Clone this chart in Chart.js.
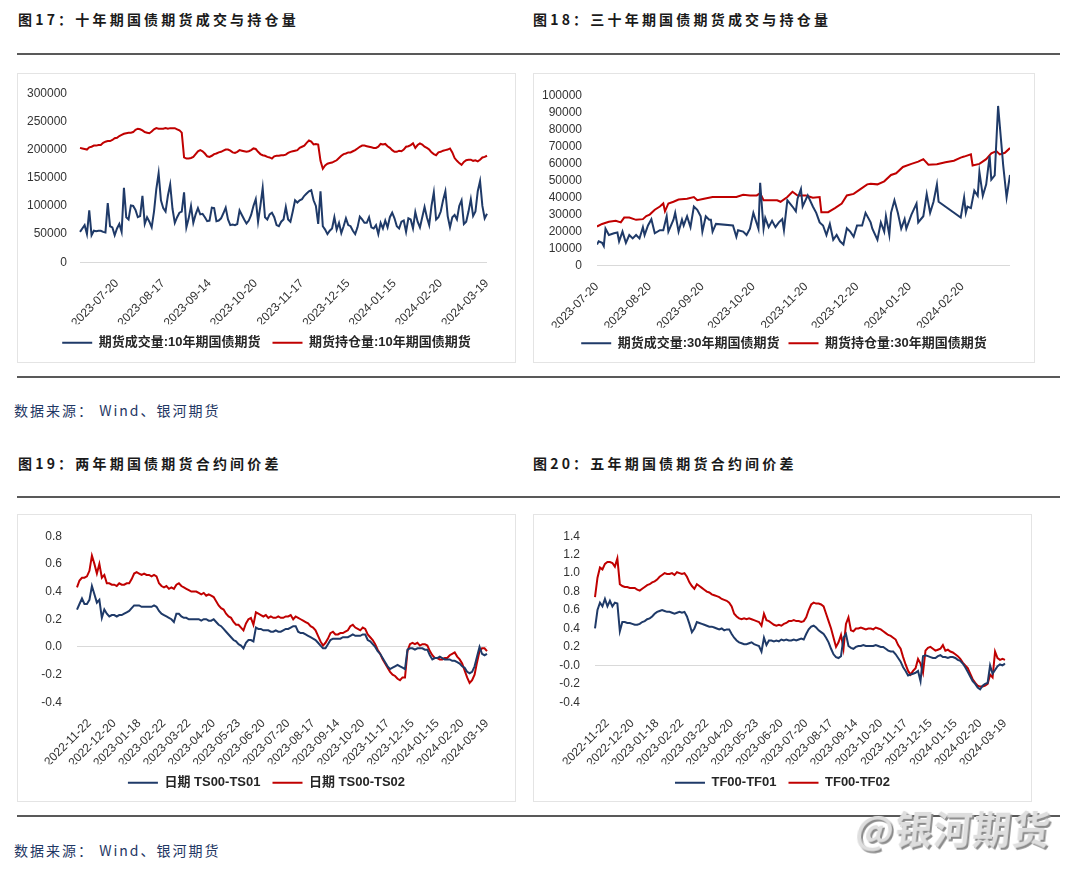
<!DOCTYPE html>
<html><head><meta charset="utf-8">
<script src="https://cdn.jsdelivr.net/npm/chart.js@4.4.1/dist/chart.umd.min.js"></script>
<style>
html,body{margin:0;padding:0;background:#fff;}
body{width:1080px;height:884px;position:relative;overflow:hidden;font-family:'Noto Sans CJK SC',sans-serif;}
.title{position:absolute;font-size:14px;font-weight:bold;letter-spacing:3.2px;color:#1a1a1a;line-height:20px;white-space:nowrap;}
.rule{position:absolute;left:17px;width:1043px;height:2px;background:#595959;}
.src{position:absolute;left:14px;font-size:14px;letter-spacing:2px;color:#1f3864;line-height:20px;white-space:nowrap;}
.box{position:absolute;border:1px solid #e4e4e4;box-sizing:border-box;}
.box canvas{position:absolute;left:-1px;top:-1px;}
.wm{position:absolute;font-size:38px;font-weight:bold;color:#dedede;text-shadow:2px 2px 0 #8a8a8a;line-height:44px;white-space:nowrap;transform:skewX(-6deg);letter-spacing:1px;}
</style></head>
<body>
<div class="title" style="left:18px;top:9px">图17：十年期国债期货成交与持仓量</div>
<div class="title" style="left:533px;top:9px">图18：三十年期国债期货成交与持仓量</div>
<div class="rule" style="top:53px"></div>
<div class="box" style="left:17px;top:73px;width:499px;height:290px"><canvas id="c1" width="499" height="290"></canvas></div>
<div class="box" style="left:533px;top:73px;width:502px;height:290px"><canvas id="c2" width="502" height="290"></canvas></div>
<div class="rule" style="top:376px"></div>
<div class="src" style="top:400px">数据来源： Wind、银河期货</div>
<div class="title" style="left:18px;top:453px">图19：两年期国债期货合约间价差</div>
<div class="title" style="left:533px;top:453px">图20：五年期国债期货合约间价差</div>
<div class="rule" style="top:496px"></div>
<div class="box" style="left:17px;top:514px;width:499px;height:288px"><canvas id="c3" width="499" height="288"></canvas></div>
<div class="box" style="left:533px;top:514px;width:499px;height:288px"><canvas id="c4" width="499" height="288"></canvas></div>
<div class="rule" style="top:815px"></div>
<div class="src" style="top:840px">数据来源： Wind、银河期货</div>
<div class="wm" style="left:856px;top:806px">@银河期货</div>
<script>
// ---------- Chart 17: 10Y volume & open interest (daily, 177 trading days) ----------
const ticks10 = ['2023-07-20','2023-08-17','2023-09-14','2023-10-20','2023-11-17','2023-12-15','2024-01-15','2024-02-20','2024-03-19'];
const vol10 = [54000,60000,66000,50000,92000,48000,56000,55000,56000,56000,
54000,53000,105000,64000,62000,48000,60000,68000,54000,132000,
80000,76000,101000,100000,93000,80000,82000,118000,68000,80000,
72000,62000,90000,130000,158000,110000,96000,90000,118000,138000,
95000,70000,80000,88000,90000,124000,62000,78000,100000,70000,
85000,96000,85000,86000,80000,73000,74000,97000,96000,73000,
74000,78000,87000,97000,76000,66000,67000,66000,68000,92000,
84000,76000,69000,74000,84000,100000,112000,72000,100000,132000,
80000,76000,85000,88000,80000,66000,64000,72000,76000,98000,
76000,72000,90000,110000,106000,110000,112000,118000,122000,126000,
128000,110000,100000,68000,126000,64000,58000,50000,56000,60000,
80000,58000,70000,52000,64000,78000,66000,64000,56000,50000,
62000,81000,76000,70000,70000,80000,62000,60000,66000,50000,
70000,60000,74000,62000,80000,88000,78000,64000,60000,72000,
74000,54000,78000,76000,60000,89000,72000,62000,80000,98000,
80000,66000,100000,124000,76000,80000,90000,110000,126000,82000,
62000,80000,84000,76000,100000,110000,68000,72000,90000,112000,
82000,90000,126000,144000,100000,78000,86000];
const oi10 = [203000,202000,201000,200000,204000,205000,207000,207000,208000,208000,
212000,214000,215000,215000,217000,220000,221000,224000,226000,228000,
229000,230000,230000,231000,235000,237000,236000,234000,231000,230000,
229000,232000,236000,238000,237000,237000,237000,238000,237000,238000,
238000,238000,236000,234000,230000,186000,184000,184000,185000,187000,
192000,197000,199000,197000,193000,188000,187000,189000,192000,193000,
195000,196000,198000,200000,200000,198000,195000,194000,196000,199000,
198000,197000,196000,197000,199000,202000,201000,196000,192000,190000,
189000,187000,186000,184000,188000,189000,189000,190000,190000,191000,
194000,196000,197000,198000,199000,203000,205000,207000,212000,216000,
214000,209000,210000,209000,180000,166000,172000,175000,176000,177000,
179000,181000,185000,189000,192000,193000,195000,195000,197000,199000,
202000,205000,207000,207000,206000,205000,204000,203000,203000,205000,
210000,209000,210000,206000,203000,199000,196000,196000,198000,197000,
200000,205000,206000,208000,211000,203000,208000,211000,209000,205000,
203000,200000,195000,192000,190000,195000,196000,198000,199000,200000,
202000,195000,185000,180000,176000,173000,178000,181000,182000,182000,
180000,181000,179000,182000,186000,187000,189000];

// ---------- Chart 18: 30Y volume & open interest (date axis, days since 2023-07-20) ----------
const ticks30 = ['2023-07-20','2023-08-20','2023-09-20','2023-10-20','2023-11-20','2023-12-20','2024-01-20','2024-02-20'];
const tickDays30 = [0,31,62,92,123,153,184,215];
const lastDay30 = 243;
const volDays30 = [0,1,3,4,5,7,10,12,13,15,17,19,21,23,25,27,28,30,32,34,37,39,41,42,45,46,48,50,51,53,55,57,59,61,62,64,66,67,68,70,80,82,83,86,88,90,92,95,96,98,99,101,103,105,107,109,110,112,115,117,118,120,121,124,127,129,131,133,135,137,139,141,143,145,147,149,151,153,156,158,161,162,165,167,169,170,172,173,175,177,179,181,182,185,188,189,192,194,196,198,200,201,214,216,217,218,220,222,224,225,227,229,231,232,234,236,239,241,243];
const vol30 = [12400,14300,13400,11500,21700,18000,19000,19500,14300,20000,
13400,18000,16000,18000,16000,22600,18000,23600,27300,19000,
20800,20800,29000,20000,27000,31000,20000,27000,23600,29000,
22600,34700,32800,29000,20000,29000,27000,27000,20000,24500,
23600,17000,20800,20000,18000,21700,31000,21700,48600,21700,
28000,22600,26300,22600,25400,27300,20800,38400,34700,31900,
39300,44900,34700,41200,34700,31000,25400,23600,18000,24500,
15200,18000,14300,12400,22000,20000,17000,23600,23600,31000,
25400,21700,15200,25400,20000,29000,18000,31000,38400,31000,
21700,27300,21700,30000,36500,25400,29000,42000,31000,37500,
47700,37500,28200,40000,31000,34700,33800,44000,41000,55000,
41000,47700,64400,50500,53000,93700,58800,40000,53200];
const oiDays30 = [0,3,7,11,14,16,19,23,27,29,31,34,37,39,40,42,45,48,53,57,59,63,68,82,86,90,94,96,98,102,106,108,112,115,118,123,127,131,132,136,140,144,147,151,155,159,161,165,169,173,176,180,185,189,192,195,200,205,210,214,216,220,221,225,229,232,235,237,240,243];
const oi30 = [23000,24500,25800,26300,25400,28200,28200,26900,27300,29100,
30000,32800,34700,36500,31900,36500,37500,38800,39300,40300,
38400,39300,40300,40300,41600,41200,41200,42500,38400,38400,
38400,37500,40300,43400,41200,41200,39900,40300,31400,31400,
33800,36500,41200,42100,44900,47700,48000,47700,49500,53200,
54200,57900,59700,61000,62500,59200,59500,60700,61600,63400,
64000,65300,58800,59700,62500,65900,67200,65300,66200,69000];

// ---------- Charts 19/20: calendar spreads (every 2nd trading day, 166 samples) ----------
const ticksSpread = ['2022-11-22','2022-12-20','2023-01-18','2023-02-22','2023-03-22','2023-04-20','2023-05-23','2023-06-20','2023-07-20','2023-08-17','2023-09-14','2023-10-20','2023-11-17','2023-12-15','2024-01-15','2024-02-20','2024-03-19'];
const ts01 = [0.27,0.31,0.35,0.31,0.31,0.34,0.44,0.38,0.32,0.34,
0.21,0.27,0.24,0.22,0.23,0.23,0.22,0.23,0.23,0.24,
0.25,0.26,0.28,0.30,0.30,0.30,0.29,0.29,0.29,0.29,
0.29,0.30,0.29,0.26,0.24,0.23,0.22,0.21,0.20,0.18,
0.24,0.24,0.22,0.21,0.21,0.20,0.20,0.20,0.20,0.20,
0.19,0.20,0.20,0.19,0.19,0.20,0.18,0.16,0.15,0.13,
0.11,0.09,0.07,0.05,0.04,0.02,0.01,-0.01,0.03,0.05,
0.05,0.04,0.14,0.13,0.13,0.12,0.12,0.12,0.11,0.11,
0.12,0.11,0.11,0.12,0.13,0.13,0.14,0.15,0.15,0.11,
0.10,0.10,0.09,0.08,0.07,0.06,0.05,0.03,0.01,-0.01,
-0.01,0.02,0.05,0.06,0.06,0.06,0.06,0.07,0.07,0.07,
0.08,0.09,0.08,0.08,0.08,0.09,0.09,0.05,0.04,0.02,
0.00,-0.03,-0.05,-0.08,-0.11,-0.14,-0.16,-0.15,-0.14,-0.13,
-0.14,-0.15,-0.16,-0.02,-0.01,-0.01,-0.02,-0.01,-0.01,-0.01,
-0.02,-0.02,-0.06,-0.09,-0.08,-0.08,-0.07,-0.08,-0.09,-0.09,
-0.09,-0.10,-0.10,-0.11,-0.12,-0.14,-0.15,-0.18,-0.19,-0.18,
-0.14,-0.07,0.00,-0.05,-0.06,-0.05];
const ts02 = [0.43,0.48,0.50,0.50,0.51,0.55,0.66,0.60,0.53,0.60,
0.50,0.52,0.46,0.46,0.45,0.45,0.44,0.46,0.45,0.45,
0.46,0.46,0.49,0.53,0.54,0.53,0.52,0.53,0.52,0.52,
0.51,0.52,0.51,0.46,0.44,0.43,0.44,0.42,0.43,0.42,
0.45,0.46,0.44,0.43,0.42,0.41,0.40,0.40,0.40,0.39,
0.38,0.39,0.37,0.38,0.37,0.36,0.33,0.30,0.28,0.27,
0.24,0.22,0.21,0.18,0.16,0.16,0.14,0.12,0.17,0.20,
0.21,0.16,0.25,0.24,0.23,0.22,0.23,0.21,0.22,0.21,
0.21,0.22,0.21,0.21,0.22,0.22,0.23,0.20,0.22,0.21,
0.20,0.19,0.18,0.17,0.15,0.14,0.12,0.08,0.04,0.01,
0.03,0.06,0.10,0.11,0.09,0.09,0.10,0.10,0.11,0.12,
0.15,0.16,0.14,0.13,0.12,0.14,0.13,0.09,0.07,0.05,
0.02,-0.02,-0.05,-0.09,-0.12,-0.15,-0.18,-0.20,-0.21,-0.23,
-0.24,-0.22,-0.22,-0.03,0.02,0.03,0.02,0.03,0.01,0.02,
0.02,0.01,-0.03,-0.06,-0.08,-0.08,-0.09,-0.09,-0.08,-0.08,
-0.06,-0.05,-0.04,-0.07,-0.09,-0.12,-0.17,-0.22,-0.26,-0.24,
-0.20,-0.11,-0.03,-0.01,-0.01,-0.03];
const tf01 = [0.40,0.60,0.68,0.64,0.72,0.64,0.70,0.64,0.68,0.67,
0.37,0.47,0.47,0.46,0.46,0.45,0.44,0.44,0.45,0.47,
0.48,0.50,0.51,0.53,0.56,0.58,0.59,0.60,0.59,0.58,
0.58,0.57,0.56,0.57,0.58,0.57,0.58,0.53,0.45,0.36,
0.40,0.47,0.46,0.45,0.44,0.43,0.42,0.42,0.41,0.40,
0.39,0.40,0.38,0.39,0.39,0.34,0.30,0.27,0.25,0.24,
0.23,0.23,0.24,0.25,0.23,0.22,0.21,0.15,0.30,0.22,
0.27,0.27,0.26,0.27,0.26,0.28,0.27,0.28,0.27,0.27,
0.28,0.27,0.28,0.29,0.28,0.34,0.39,0.42,0.43,0.41,
0.38,0.36,0.34,0.30,0.25,0.18,0.12,0.09,0.08,0.10,
0.30,0.34,0.21,0.19,0.18,0.20,0.21,0.21,0.22,0.21,
0.21,0.21,0.21,0.22,0.21,0.20,0.20,0.18,0.16,0.15,
0.15,0.12,0.08,0.04,-0.02,-0.06,-0.11,-0.10,-0.09,-0.08,
-0.06,-0.17,0.10,0.11,0.10,0.09,0.08,0.08,0.10,0.11,
0.09,0.09,0.08,0.09,0.09,0.08,0.06,0.05,0.02,-0.02,
-0.07,-0.12,-0.17,-0.20,-0.24,-0.26,-0.22,-0.20,-0.19,0.00,
-0.09,-0.05,-0.01,0.01,0.00,0.02];
const tf02 = [0.74,0.95,1.06,1.04,1.10,1.12,1.12,1.11,1.07,1.16,
0.88,0.86,0.85,0.85,0.84,0.84,0.84,0.82,0.81,0.83,
0.85,0.87,0.88,0.90,0.91,0.93,0.96,0.98,1.00,0.99,
0.99,1.00,0.98,1.01,1.00,0.99,1.00,0.96,0.90,0.86,
0.83,0.88,0.86,0.84,0.82,0.80,0.79,0.77,0.76,0.75,
0.74,0.72,0.71,0.70,0.68,0.64,0.56,0.53,0.51,0.50,
0.51,0.50,0.51,0.50,0.49,0.48,0.47,0.43,0.56,0.49,
0.48,0.46,0.44,0.43,0.44,0.43,0.45,0.46,0.48,0.48,
0.49,0.48,0.48,0.47,0.48,0.52,0.60,0.66,0.68,0.67,
0.67,0.66,0.64,0.56,0.48,0.40,0.30,0.20,0.25,0.33,
0.18,0.45,0.52,0.38,0.37,0.40,0.40,0.41,0.40,0.39,
0.40,0.40,0.39,0.41,0.40,0.39,0.37,0.35,0.33,0.32,
0.30,0.28,0.22,0.18,0.09,0.01,-0.06,-0.10,-0.06,-0.03,
0.07,0.02,-0.08,0.16,0.19,0.20,0.18,0.16,0.17,0.18,
0.22,0.16,0.17,0.15,0.14,0.12,0.10,0.07,0.03,0.00,
-0.03,-0.09,-0.15,-0.19,-0.22,-0.23,-0.23,-0.22,-0.20,-0.10,
-0.13,0.15,0.08,0.06,0.07,0.06];

const BLUE = '#1f3a68', RED = '#c00000';

// category labels: tick labels sit every `step` points counted back from the last point
function buildLabels(n, step, tickLabels) {
  const arr = new Array(n).fill('');
  const m = tickLabels.length;
  tickLabels.forEach((t, k) => { arr[n - 1 - step * (m - 1 - k)] = t; });
  return arr;
}

Chart.defaults.font.family = "'Liberation Sans', Arial, sans-serif";
Chart.defaults.font.size = 12;
Chart.defaults.color = '#333';

function line(label, data, color) {
  return { label, data, borderColor: color, backgroundColor: color, borderWidth: 2,
           pointRadius: 0, pointHoverRadius: 0, fill: false, tension: 0 };
}

function makeChart(id, o) {
  const zeroGrid = c => (Math.abs(c.tick.value) < 1e-9 ? '#d9d9d9' : 'rgba(0,0,0,0)');
  return new Chart(document.getElementById(id), {
    type: 'line',
    data: { labels: o.labels, datasets: o.datasets },
    options: {
      responsive: false, animation: false, devicePixelRatio: 1,
      layout: { padding: { top: o.pt, bottom: o.pb, left: 0, right: 0 } },
      plugins: {
        tooltip: { enabled: false },
        legend: { position: 'bottom',
          labels: { usePointStyle: true, pointStyle: 'line', pointStyleWidth: 30, padding: o.lp,
                    color: '#262626',
                    font: { family: "'Liberation Sans', 'Noto Sans CJK SC', sans-serif", size: 13, weight: 'bold' } } }
      },
      scales: {
        x: Object.assign({
          grid: { display: false }, border: { display: false },
          afterFit: s => { s.height = o.xH; }
        }, o.x),
        y: {
          min: o.yMin, max: o.yMax,
          ticks: { stepSize: o.yStep, padding: o.yPad, callback: o.yFmt, autoSkip: false },
          grid: { drawTicks: false, color: zeroGrid, lineWidth: 1 },
          border: { display: false },
          afterFit: s => { s.width = o.yW; }
        },
        yR: { axis: 'y', position: 'right', display: true,
              ticks: { display: false }, grid: { display: false }, border: { display: false },
              afterFit: s => { s.width = o.rW; } }
      }
    }
  });
}

const catX = { type: 'category', ticks: { autoSkip: false, minRotation: 45, maxRotation: 45, padding: 6 } };

// Chart 17
makeChart('c1', {
  labels: buildLabels(vol10.length, 20, ticks10),
  datasets: [line('期货成交量:10年期国债期货', vol10, BLUE), line('期货持仓量:10年期国债期货', oi10, RED)],
  x: catX, yMin: 0, yMax: 300000, yStep: 50000, yFmt: v => String(v),
  yW: 63, yPad: 13, rW: 29, pt: 14, xH: 62, pb: 3.7, lp: 12
});

// Chart 18
makeChart('c2', {
  datasets: [
    line('期货成交量:30年期国债期货', volDays30.map((d, i) => ({ x: d, y: vol30[i] })), BLUE),
    line('期货持仓量:30年期国债期货', oiDays30.map((d, i) => ({ x: d, y: oi30[i] })), RED)
  ],
  x: { type: 'linear', min: 0, max: lastDay30,
       afterBuildTicks: s => { s.ticks = tickDays30.map(v => ({ value: v })); },
       ticks: { autoSkip: false, minRotation: 45, maxRotation: 45, padding: 6, callback: (v, i) => ticks30[i] } },
  yMin: 0, yMax: 100000, yStep: 10000, yFmt: v => String(v),
  yW: 64, yPad: 15, rW: 25, pt: 13, xH: 62, pb: 3.3, lp: 9
});

// Chart 19
makeChart('c3', {
  labels: buildLabels(ts01.length, 10, ticksSpread),
  datasets: [line('日期 TS00-TS01', ts01, BLUE), line('日期 TS00-TS02', ts02, RED)],
  x: catX, yMin: -0.4, yMax: 0.8, yStep: 0.2, yFmt: v => v.toFixed(1),
  yW: 60, yPad: 15, rW: 29, pt: 15, xH: 62, pb: 2.7, lp: 12
});

// Chart 20
makeChart('c4', {
  labels: buildLabels(tf01.length, 10, ticksSpread),
  datasets: [line('TF00-TF01', tf01, BLUE), line('TF00-TF02', tf02, RED)],
  x: catX, yMin: -0.4, yMax: 1.4, yStep: 0.2, yFmt: v => v.toFixed(1),
  yW: 62, yPad: 15, rW: 27, pt: 15.3, xH: 62, pb: 2.7, lp: 12
});
</script>
</body></html>
